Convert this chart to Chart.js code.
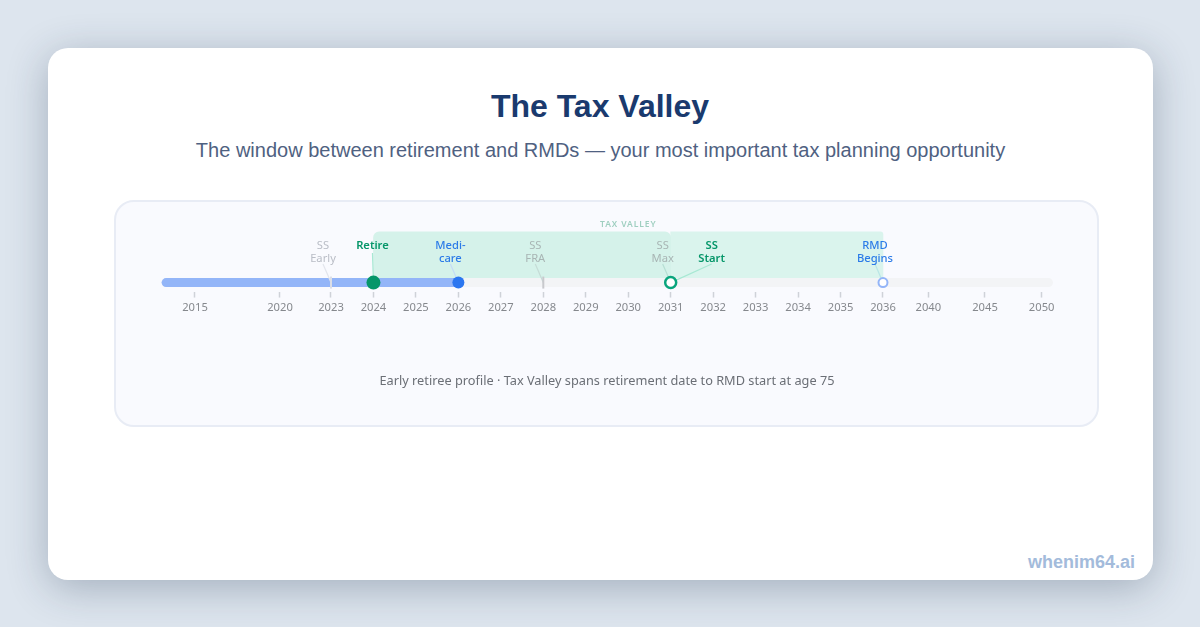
<!DOCTYPE html>
<html>
<head>
<meta charset="utf-8">
<script src="https://cdn.jsdelivr.net/npm/chart.js@4/dist/chart.umd.min.js"></script>
<style>
html, body { margin: 0; padding: 0; }
body { width: 1200px; height: 627px; background: #dde5ee; overflow: hidden; position: relative; }
.card { position: absolute; left: 48px; top: 48px; width: 1105px; height: 532px; background: #fff; border-radius: 20px; box-shadow: 0 8px 40px rgba(30,50,75,0.3); }
h1 { position: absolute; left: -1px; right: 0; top: 38px; margin: 0; text-align: center; font: bold 32px "Liberation Sans", sans-serif; color: #1a3a6e; line-height: 40px; }
.sub { position: absolute; left: 0; right: 0; top: 89px; text-align: center; font: 20px "Liberation Sans", sans-serif; color: #4f6181; line-height: 26px; }
.panel { position: absolute; left: 66px; top: 152px; width: 985px; height: 227px; box-sizing: border-box; background: #f9fafe; border: 2px solid #e8ecf5; border-radius: 20px; }
.panel canvas { position: absolute; left: -1px; top: -1px; }
.wrap { position: absolute; left: 0; top: 0; width: 985px; height: 226px; }
.brand { position: absolute; right: 18px; bottom: 7px; font: bold 18px "Liberation Sans", sans-serif; color: #a3bbdb; }
</style>
</head>
<body>
<div class="card">
  <h1>The Tax Valley</h1>
  <div class="sub">The window between retirement and RMDs — your most important tax planning opportunity</div>
  <div class="panel"><div class="wrap"><canvas id="timeline"></canvas></div></div>
  <div class="brand">whenim64.ai</div>
</div>
<script>
var tickYears = [2015, 2020, 2023, 2024, 2025, 2026, 2027, 2028, 2029, 2030, 2031, 2032, 2033, 2034, 2035, 2036, 2040, 2045, 2050];
var axisRange = [2013, 2051];
var trackRange = [2013.3, 2050.6];
var progressRange = [2013.3, 2026];
var valleyLeft = [2024, 2031];
var valleyRight = [2031, 2036];

// the axis is stretched between these years: one slot per year from 2023 to 2036
var breakYears = [2013, 2023, 2036, 2051];
var breakShares = [0, 0.19058, 0.8094, 1];

var markerYears = [2023, 2024, 2026, 2028, 2031, 2031, 2036];
var markerLabels = [["SS", "Early"], ["Retire"], ["Medi-", "care"], ["SS", "FRA"], ["SS", "Max"], ["SS", "Start"], ["RMD", "Begins"]];
var markerShift = [-8, -1, -8, -8, -8, 41, -8];
var markerColors = ["#b9bdc6", "#059669", "#2b7be8", "#a8b5b4", "#a8b5b4", "#059669", "#2b7be8"];
var lineColors = ["#e2e5ec", "#a7e8d3", "#c4dcf6", "#c5dcd6", "#b6dfd3", "#a7e8d3", "#b9e6e6"];

class YearScale extends Chart.LinearScale {
  getPixelForValue(value) {
    if (value === null || value === undefined) return NaN;
    var i = 0;
    while (i < breakYears.length - 2 && value > breakYears[i + 1]) i++;
    var t = (value - breakYears[i]) / (breakYears[i + 1] - breakYears[i]);
    return this.getPixelForDecimal(breakShares[i] + t * (breakShares[i + 1] - breakShares[i]));
  }
}
YearScale.id = "yearScale";
YearScale.defaults = Chart.LinearScale.defaults;
Chart.register(YearScale);

var markerText = {
  id: "markerText",
  // leaders go between the track and the round markers
  afterDatasetDraw: function(chart, args) {
    if (args.index !== 3) return;
    var ctx = chart.ctx, x = chart.scales.x, y = chart.scales.y;
    var trackY = y.getPixelForValue(0);
    ctx.save();
    markerYears.forEach(function(year, i) {
      var px = x.getPixelForValue(year);
      ctx.strokeStyle = lineColors[i];
      ctx.lineWidth = 1.2;
      ctx.beginPath();
      ctx.moveTo(px + markerShift[i], markerLabels[i].length > 1 ? 63 : 52);
      ctx.lineTo(px, trackY);
      ctx.stroke();
    });
    ctx.restore();
  },
  afterDatasetsDraw: function(chart) {
    var ctx = chart.ctx, x = chart.scales.x;
    ctx.save();
    ctx.textAlign = "center";
    markerYears.forEach(function(year, i) {
      var lx = x.getPixelForValue(year) + markerShift[i];
      ctx.fillStyle = markerColors[i];
      ctx.font = (i == 1 || i == 5 ? "600 " : (i == 2 || i == 6 ? "500 " : "")) + '11.2px "Noto Sans", sans-serif';
      markerLabels[i].forEach(function(t, k) { ctx.fillText(t, lx, 48 + k * 13); });
    });
    ctx.fillStyle = "#9fcfc0";
    ctx.font = '600 8.5px "Noto Sans", sans-serif';
    ctx.letterSpacing = "0.9px";
    ctx.fillText("TAX VALLEY", x.getPixelForValue(2030), 26);
    ctx.letterSpacing = "0px";
    ctx.fillStyle = "#6b6f76";
    ctx.font = '12.75px "Noto Sans", sans-serif';
    ctx.fillText("Early retiree profile · Tax Valley spans retirement date to RMD start at age 75", 492, 184);
    ctx.restore();
  }
};

new Chart(document.getElementById("timeline"), {
  data: {
    datasets: [
      { type: "bar", indexAxis: "y", grouped: false, data: [{ x: valleyRight, y: 31 }], backgroundColor: "#daf4ed", barThickness: 46, borderRadius: { topRight: 3 }, borderSkipped: false, order: 7 },
      { type: "bar", indexAxis: "y", grouped: false, data: [{ x: valleyLeft, y: 31 }], backgroundColor: "#d5f2ea", barThickness: 46, borderRadius: { topLeft: 6, topRight: 6 }, borderSkipped: false, order: 6 },
      { type: "line", clip: false, data: trackRange.map(function(v) { return { x: v, y: 0 }; }), borderColor: "#f3f4f6", borderWidth: 9, borderCapStyle: "round", pointRadius: 0, order: 5 },
      { type: "line", clip: false, data: progressRange.map(function(v) { return { x: v, y: 0 }; }), borderColor: "#93b5f8", borderWidth: 9, borderCapStyle: "round", pointRadius: 0, order: 4 },
      { type: "line", clip: false, showLine: false, data: [{ x: 2023, y: 0 }, { x: 2028, y: 0 }], pointStyle: "line", rotation: 90, pointRadius: 6, pointBorderWidth: 2, pointBorderColor: ["#dbdee6", "#c8c9cd"], order: 3 },
      { type: "line", clip: false, showLine: false, data: [{ x: 2024, y: 0 }, { x: 2026, y: 0 }, { x: 2031, y: 0 }, { x: 2036, y: 0 }],
        pointRadius: [7, 6, 5.5, 4.5], pointBorderWidth: [0, 0, 2.5, 2],
        pointBackgroundColor: ["#059669", "#2b76f0", "#ffffff", "#ffffff"],
        pointBorderColor: ["#059669", "#2b76f0", "#0aa57d", "#93b5f8"], order: 1 }
    ]
  },
  options: {
    responsive: true,
    maintainAspectRatio: false,
    animation: false,
    layout: { padding: { left: 46, right: 47, top: 0, bottom: 108 } },
    plugins: { legend: { display: false }, tooltip: { enabled: false } },
    scales: {
      x: {
        type: "yearScale",
        min: axisRange[0],
        max: axisRange[1],
        position: "bottom",
        afterBuildTicks: function(axis) { axis.ticks = tickYears.map(function(v) { return { value: v }; }); },
        border: { display: false },
        grid: { drawOnChartArea: false, tickLength: 6, tickColor: "#cfd2d8", tickWidth: 1.5 },
        ticks: { autoSkip: false, maxRotation: 0, padding: 4, color: "#85888d", font: { family: "Noto Sans", size: 11.2 }, callback: function(v) { return String(v); } }
      },
      y: { type: "linear", offset: false, min: -10, max: 82, display: false }
    }
  },
  plugins: [markerText]
});
</script>
</body>
</html>
